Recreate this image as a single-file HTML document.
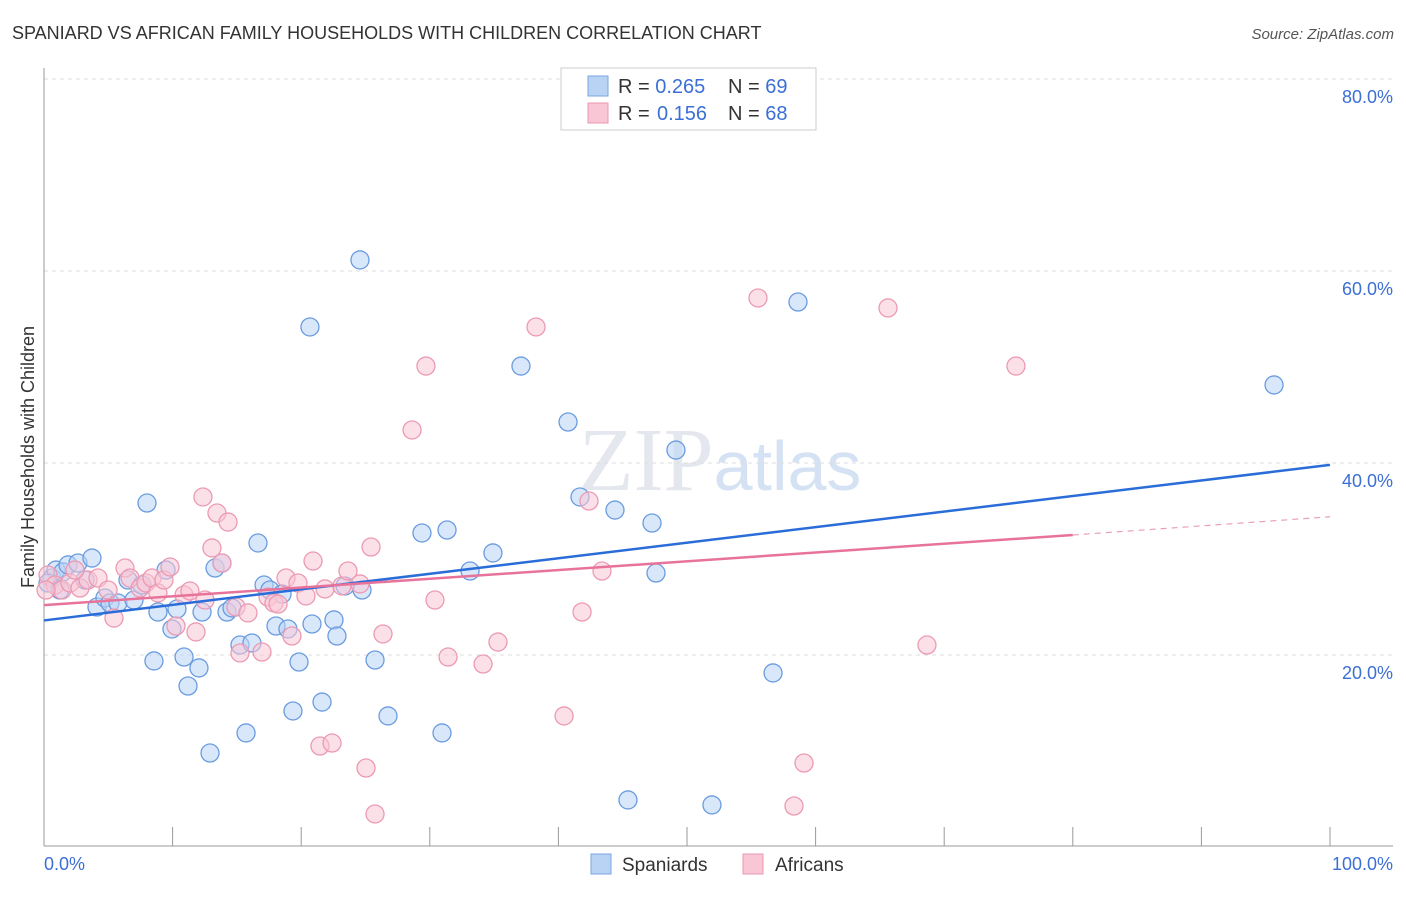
<!DOCTYPE html>
<html><head><meta charset="utf-8"><style>
body{margin:0;background:#fff;font-family:"Liberation Sans",sans-serif;}
</style></head><body>
<svg id="chart" width="1406" height="892" xmlns="http://www.w3.org/2000/svg">
<text x="12" y="39" font-size="18" fill="#333">SPANIARD VS AFRICAN FAMILY HOUSEHOLDS WITH CHILDREN CORRELATION CHART</text>
<text x="1394" y="39" font-size="15" fill="#555" font-style="italic" text-anchor="end">Source: ZipAtlas.com</text>
<text x="720" y="490" font-size="90" fill="#e4e8ee" text-anchor="middle" font-family="Liberation Serif,serif">ZIP<tspan fill="#d4e2f4" font-family="Liberation Sans,sans-serif" font-size="70">atlas</tspan></text>
<g id="grid"></g>
<line x1="44" y1="68" x2="44" y2="846" stroke="#999"/>
<line x1="44" y1="846" x2="1393" y2="846" stroke="#999"/>
<g id="xticks"></g>
<text transform="translate(34,457) rotate(-90)" font-size="18" fill="#333" text-anchor="middle">Family Households with Children</text>
<text x="44" y="870" font-size="18" fill="#3b6fd6">0.0%</text>
<text x="1393" y="870" font-size="18" fill="#3b6fd6" text-anchor="end">100.0%</text>
<g id="pts"></g>
<g id="lines"></g>
<g>
<rect x="561" y="68" width="255" height="62" fill="#fff" stroke="#ccc"/>
<rect x="588" y="76" width="20" height="20" fill="#b9d3f5" stroke="#7aa4e0"/>
<rect x="588" y="103" width="20" height="20" fill="#f9c6d5" stroke="#eb97b0"/>
<text x="618" y="93" font-size="20" fill="#333">R = <tspan fill="#3b6fd6">0.265</tspan><tspan x="728">N = </tspan><tspan fill="#3b6fd6">69</tspan></text>
<text x="618" y="120" font-size="20" fill="#333">R = <tspan fill="#3b6fd6" x="657">0.156</tspan><tspan x="728">N = </tspan><tspan fill="#3b6fd6">68</tspan></text>
</g>
<g>
<rect x="591" y="854" width="20" height="20" fill="#b9d3f5" stroke="#7aa4e0"/>
<text x="622" y="871" font-size="19" fill="#333">Spaniards</text>
<rect x="743" y="854" width="20" height="20" fill="#f9c6d5" stroke="#eb97b0"/>
<text x="775" y="871" font-size="19" fill="#333">Africans</text>
</g>
</svg>
<script>
const yTicks=[20,40,60,80];
const yTickLabels=["20.0%","40.0%","60.0%","80.0%"];
const xTicks=[10,20,30,40,50,60,70,80,90,100];
const bluePx=[[52,578],[56,570],[63,572],[68,565],[78,563],[85,580],[92,558],[97,607],[105,598],[110,603],[118,603],[128,580],[134,600],[142,585],[147,503],[154,661],[158,612],[166,570],[172,629],[177,609],[184,657],[188,686],[199,668],[202,612],[210,753],[215,568],[222,563],[227,612],[232,608],[240,645],[246,733],[252,643],[258,543],[264,585],[270,590],[276,626],[282,594],[288,629],[293,711],[299,662],[310,327],[312,624],[322,702],[334,620],[337,636],[345,586],[360,260],[362,590],[375,660],[388,716],[422,533],[442,733],[447,530],[470,571],[493,553],[521,366],[568,422],[580,497],[615,510],[628,800],[652,523],[656,573],[676,450],[712,805],[773,673],[798,302],[1274,385],[48,583],[60,590]];
const pinkPx=[[48,575],[55,585],[62,590],[70,583],[80,588],[88,580],[98,578],[108,590],[114,618],[125,568],[130,578],[140,588],[146,583],[152,578],[158,593],[164,580],[170,567],[176,626],[184,595],[190,591],[196,632],[203,497],[212,548],[217,513],[222,563],[228,522],[236,607],[240,653],[248,613],[262,652],[268,597],[274,603],[278,604],[286,578],[292,636],[298,583],[306,596],[313,561],[320,746],[325,589],[332,743],[342,586],[348,571],[360,584],[366,768],[371,547],[375,814],[383,634],[412,430],[426,366],[435,600],[448,657],[483,664],[498,642],[536,327],[564,716],[582,612],[589,501],[602,571],[758,298],[794,806],[804,763],[888,308],[927,645],[1016,366],[46,590],[75,570],[205,600]];
// convert picture readings to data values (% units)
const spanX=bluePx.map(p=>+((p[0]-44)/12.86).toFixed(2));
const spanY=bluePx.map(p=>+((847-p[1])/9.6).toFixed(2));
const afrX=pinkPx.map(p=>+((p[0]-44)/12.86).toFixed(2));
const afrY=pinkPx.map(p=>+((847-p[1])/9.6).toFixed(2));
const blueLine=[[0,23.6],[100,39.8]];
const pinkLine=[[0,25.2],[80,32.5],[100,34.4]];
const X=v=>44+v*12.86, Y=v=>847-v*9.6;
const NS="http://www.w3.org/2000/svg";
function mk(t,a,p){const e=document.createElementNS(NS,t);for(const k in a)e.setAttribute(k,a[k]);p.appendChild(e);return e;}
const grid=document.getElementById('grid');
yTicks.forEach((t,i)=>{
 const l=mk('line',{x1:44,x2:1393,y1:Y(t),y2:Y(t),stroke:'#ddd','stroke-dasharray':'4,4'},grid);
 
 
 const tx=mk('text',{x:1393,y:Y(t)+24,'font-size':18,fill:'#3b6fd6','text-anchor':'end'},grid);
 tx.textContent=yTickLabels[i];
 
 
});
const xt=document.getElementById('xticks');
xTicks.forEach(t=>{
 const l=mk('line',{x1:X(t),x2:X(t),y1:827,y2:846,stroke:'#999'},xt);
 
 
});
const pts=document.getElementById('pts');
function dots(xs,ys,fill,stroke,name){
 xs.forEach((x,i)=>{
  const c=mk('circle',{cx:X(x),cy:Y(ys[i]),r:9,fill:fill,'fill-opacity':0.55,stroke:stroke,'stroke-width':1.3},pts);
  
  
 });
}
dots(spanX,spanY,'#b9d3f5','#6b9ce0','spaniard-point');
dots(afrX,afrY,'#f9c6d5','#ec9ab3','african-point');
const lg=document.getElementById('lines');
const bl=mk('line',{x1:X(blueLine[0][0]),y1:Y(blueLine[0][1]),x2:X(blueLine[1][0]),y2:Y(blueLine[1][1]),stroke:'#2a6dd9','stroke-width':2.5},lg);


const pl=mk('line',{x1:X(pinkLine[0][0]),y1:Y(pinkLine[0][1]),x2:X(pinkLine[1][0]),y2:Y(pinkLine[1][1]),stroke:'#e8739a','stroke-width':2.5},lg);


const pd=mk('line',{x1:X(pinkLine[1][0]),y1:Y(pinkLine[1][1]),x2:X(pinkLine[2][0]),y2:Y(pinkLine[2][1]),stroke:'#eba0b8','stroke-width':1.2,'stroke-dasharray':'6,5'},lg);


</script>
</body></html>
